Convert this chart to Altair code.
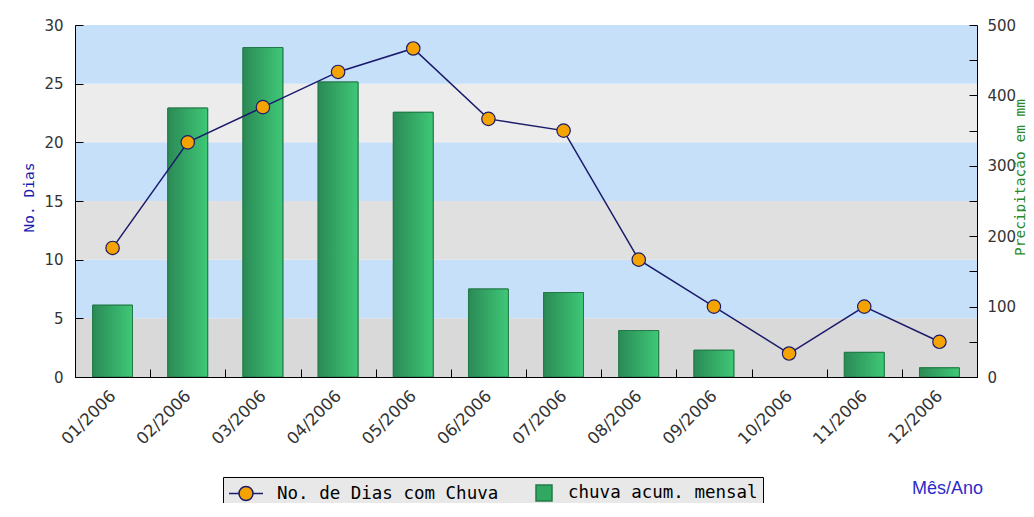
import altair as alt
import pandas as pd

# ---- data ----
meses = ["01/2006", "02/2006", "03/2006", "04/2006", "05/2006", "06/2006",
         "07/2006", "08/2006", "09/2006", "10/2006", "11/2006", "12/2006"]
dias_chuva = [11, 20, 23, 26, 28, 22, 21, 10, 6, 2, 6, 3]
chuva_mm = [102, 382, 468, 419, 376, 125, 120, 66, 38, 0, 35, 13]
serie_linha = "No. de Dias com Chuva"
serie_barra = "chuva acum. mensal"
faixa_ini = [0, 5, 10, 15, 20, 25]
faixa_fim = [5, 10, 15, 20, 25, 30]
faixa_cor = ["#d9d9d9", "#c6e0fa", "#e0e0e0", "#c6e0fa", "#ececec", "#c6e0fa"]
ticks_esq = [0, 5, 10, 15, 20, 25, 30]
ticks_dir = [0, 50, 100, 150, 200, 250, 300, 350, 400, 450, 500]

df_barra = pd.DataFrame({"mes": meses, "chuva": chuva_mm, "serie": serie_barra})
df_linha = pd.DataFrame({"mes": meses, "dias": dias_chuva, "serie": serie_linha})
df_faixa = pd.DataFrame({"y0": faixa_ini, "y1": faixa_fim, "cor": faixa_cor})

W, H = 902, 352
INWARD = alt.ExprRef(expr="-8")
TICK_COLOR = "#000000"

x_axis = alt.Axis(
    title="Mês/Ano", titleX=872, titleY=111, titleFont="Liberation Sans",
    titleFontSize=18, titleFontWeight="normal", titleColor="#2b2bc9",
    titleAlign="center", titleBaseline="middle",
    labelAngle=-45, labelAlign="right", labelBaseline="middle",
    labelFont="DejaVu Sans", labelFontSize=16.5, labelColor="#333333",
    labelPadding=24, tickBand="extent", tickSize=INWARD, tickColor=TICK_COLOR,
    tickWidth=1, domainColor="#000000", grid=False, zindex=1,
)
x_enc = alt.X("mes:N", sort=meses,
              scale=alt.Scale(domain=meses, paddingInner=0, paddingOuter=0),
              axis=x_axis)

left_axis = alt.Axis(
    title="No. Dias", values=ticks_esq, titleFont="DejaVu Sans Mono",
    titleFontSize=14.5, titleFontWeight="normal", titleColor="#1a1ab0",
    titleAngle=270, titleX=-42, titleY=172, titleAlign="center",
    titleBaseline="alphabetic",
    labelFont="DejaVu Sans", labelFontSize=15, labelColor="#333333",
    labelPadding=20, tickSize=INWARD, tickColor=TICK_COLOR, tickWidth=1,
    domainColor="#000000", grid=False, orient="left", zindex=1,
)
right_axis = alt.Axis(
    title="Precipitação em mm", values=ticks_dir,
    labelExpr="datum.value % 100 === 0 ? datum.label : ''",
    titleFont="DejaVu Sans Mono", titleFontSize=14.5, titleFontWeight="normal",
    titleColor="#2a8a2a", titleAngle=270, titleX=47, titleY=152,
    titleAlign="center", titleBaseline="alphabetic",
    labelFont="DejaVu Sans", labelFontSize=15, labelColor="#333333",
    labelPadding=18, tickSize=INWARD, tickColor=TICK_COLOR, tickWidth=1,
    domainColor="#000000", grid=False, orient="right", zindex=1,
)

dom_series = [serie_linha, serie_barra]
fill_scale = alt.Scale(domain=dom_series, range=["#f5a300", "#30a862"])
stroke_scale = alt.Scale(domain=dom_series, range=["#1b1b6b", "#237a48"])
shape_scale = alt.Scale(
    domain=dom_series,
    range=["M-1,0H0M1.4,0H2.4M0,0A0.7,0.7 0 1,0 1.4,0A0.7,0.7 0 1,0 0,0Z",
           "M0.6,-0.8H2.2V0.8H0.6Z"],
)

legend = alt.Legend(
    title=None, orient="none", legendX=148, legendY=452, direction="horizontal",
    columns=2, fillColor="#e8e8e8", strokeColor="#000000", padding=5,
    labelFont="DejaVu Sans Mono", labelFontSize=17.5, labelColor="#000000",
    labelLimit=600, labelOffset=27, columnPadding=20, symbolSize=400,
    symbolStrokeWidth=1.5, symbolOpacity=1,
)

faixas = alt.Chart(df_faixa).mark_rect().encode(
    y=alt.Y("y0:Q", scale=alt.Scale(domain=[0, 30]), axis=None),
    y2="y1:Q",
    color=alt.Color("cor:N", scale=None),
)

BAR_W = alt.RelativeBandSize(0.53)
y_bar = alt.Y("chuva:Q", scale=alt.Scale(domain=[0, 500]), axis=right_axis)
barras_base = alt.Chart(df_barra).transform_filter("datum.chuva > 0").mark_bar(
    strokeWidth=1, width=BAR_W).encode(
    x=x_enc, y=y_bar,
    fill=alt.Fill("serie:N", scale=fill_scale, legend=legend),
    stroke=alt.Stroke("serie:N", scale=stroke_scale, legend=legend),
)
barras_grad = alt.Chart(df_barra).transform_filter("datum.chuva > 0").mark_bar(
    fill=alt.Gradient(gradient="linear",
                      stops=[alt.GradientStop(offset=0, color="#2a8a55"),
                             alt.GradientStop(offset=1, color="#3fc877")],
                      x1=0, x2=1, y1=0, y2=0),
    stroke="#237a48", strokeWidth=1, width=BAR_W,
).encode(x=x_enc, y=y_bar)

y_lin = alt.Y("dias:Q", scale=alt.Scale(domain=[0, 30]), axis=left_axis)
linha = alt.Chart(df_linha).mark_line(strokeWidth=1.5).encode(
    x=x_enc, y=y_lin,
    stroke=alt.Stroke("serie:N", scale=stroke_scale, legend=legend),
)
# zero-size layer that only carries the legend symbol shapes
legenda_formas = alt.Chart(df_linha).mark_point(filled=True, size=0).encode(
    x=x_enc, y=y_lin,
    shape=alt.Shape("serie:N", scale=shape_scale, legend=legend),
    fill=alt.Fill("serie:N", scale=fill_scale, legend=legend),
    stroke=alt.Stroke("serie:N", scale=stroke_scale, legend=legend),
)
pontos = alt.Chart(df_linha).mark_point(filled=True, size=180, strokeWidth=1.2,
                                        shape="circle", opacity=1).encode(
    x=x_enc, y=y_lin,
    fill=alt.Fill("serie:N", scale=fill_scale, legend=legend),
    stroke=alt.Stroke("serie:N", scale=stroke_scale, legend=legend),
)

chart = alt.layer(
    faixas,
    alt.layer(barras_base, barras_grad),
    alt.layer(linha, legenda_formas, pontos),
).resolve_scale(y="independent").properties(
    width=W, height=H,
    autosize=alt.AutoSizeParams(type="none"),
    padding={"left": 67, "top": 17, "right": 49, "bottom": 126},
    background="#ffffff",
).configure_view(strokeWidth=0)

chart.save("out.html", embed_options={"renderer": "svg", "actions": False})
